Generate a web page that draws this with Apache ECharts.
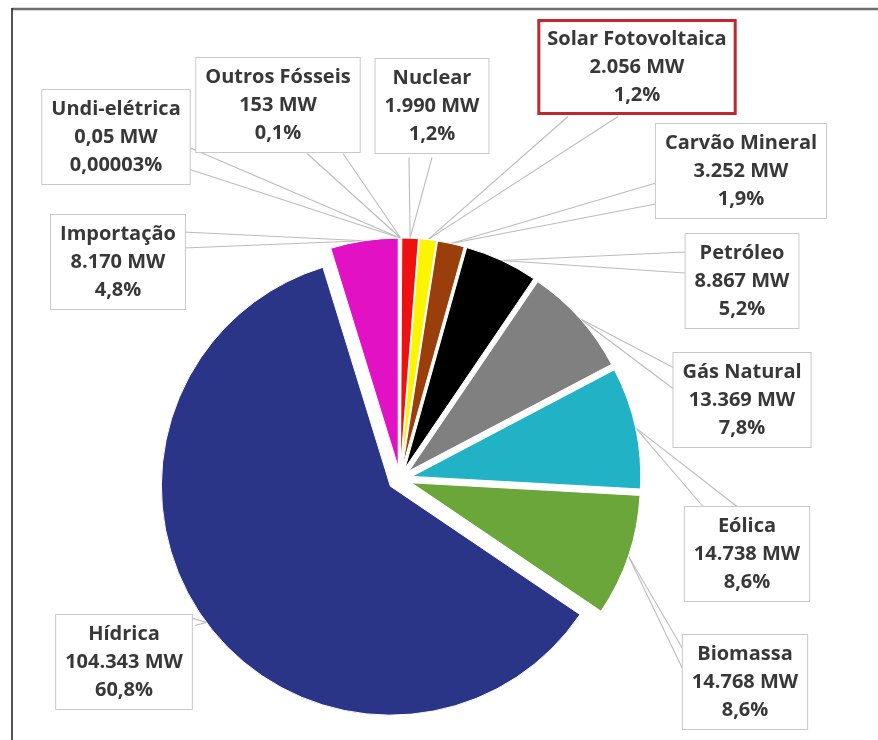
<!DOCTYPE html>
<html>
<head>
<meta charset="utf-8">
<script src="https://cdn.jsdelivr.net/npm/echarts@6/dist/echarts.min.js"></script>
<style>
  html, body { margin: 0; padding: 0; background: #fff; }
  #chart { width: 878px; height: 740px; }
</style>
</head>
<body>
<div id="chart"></div>
<script>
// Capacidade instalada por fonte (MW), na ordem horária a partir do topo
const sources = ['Outros Fósseis', 'Nuclear', 'Solar Fotovoltaica', 'Carvão Mineral', 'Petróleo',
                 'Gás Natural', 'Eólica', 'Biomassa', 'Hídrica', 'Importação', 'Undi-elétrica'];
const capacityMW = [153, 1990, 2056, 3252, 8867, 13369, 14738, 14768, 104343, 8170, 0.05];
const sliceColors = ['#7a7a7a', '#ef1111', '#fdf500', '#9a3e0b', '#000000',
                     '#808080', '#22b2c6', '#6aa63a', '#2a3587', '#e211c4', '#cfcfcf'];

// Centro de cada caixa de rótulo (px)
const labelCenters = [
  [278, 105], [432, 106], [637, 67], [741, 171], [742, 281],
  [742, 400], [747, 554], [745, 682], [124, 662], [118, 262], [116, 137]
];
// Pontos de saída das duas linhas de cada chamada (borda da caixa)
const calloutA = [
  [307, 153], [409, 157], [568, 116], [661, 181], [685, 252],
  [677, 370], [703, 507], [682, 648], [183, 615], [183, 232], [187, 146]
];
const calloutB = [
  [343, 153], [432, 157], [618, 116], [661, 203], [685, 273],
  [677, 392], [737, 507], [682, 668], [195, 626], [183, 248], [187, 168]
];

const total = capacityMW.reduce((a, b) => a + b, 0);

function formatMW(v) {
  if (Number.isInteger(v)) {
    return String(v).replace(/\B(?=(\d{3})+(?!\d))/g, '.');
  }
  return String(v).replace('.', ',');
}
function formatPct(v) {
  const p = v / total * 100;
  const s = p >= 0.05 ? p.toFixed(1) : p.toPrecision(1);
  return s.replace('.', ',') + '%';
}

const CENTER = [400, 479];
const RADIUS = 229;
const EXPLODE = 12;

const chart = echarts.init(document.getElementById('chart'), null, { renderer: 'canvas' });

// Fatias destacadas (todas afastadas do centro)
const sliceData = sources.map((name, i) => ({
  name: name,
  value: capacityMW[i],
  selected: true,
  itemStyle: { color: sliceColors[i] }
}));

// Dados para as séries transparentes de rótulos / linhas
const plainData = sources.map((name, i) => ({ name: name, value: capacityMW[i] }));
const labelData = sources.map((name, i) => {
  const item = { name: name, value: capacityMW[i] };
  if (name === 'Solar Fotovoltaica') {
    item.label = { borderColor: '#c1272d', borderWidth: 3, padding: [3, 7, 3, 7] };
  }
  return item;
});

const ghostBase = {
  type: 'pie',
  center: CENTER,
  radius: RADIUS + EXPLODE,
  startAngle: 90,
  clockwise: true,
  silent: true,
  avoidLabelOverlap: false,
  minShowLabelAngle: 0,
  itemStyle: { color: 'rgba(0,0,0,0)', borderWidth: 0 },
  emphasis: { disabled: true }
};

// Uma série por perna da chamada: rótulo vazio no ponto de saída, linha até a fatia
function calloutLegSeries(points) {
  return Object.assign({}, ghostBase, {
    z: 1,
    data: plainData,
    label: {
      show: true,
      position: 'outside',
      formatter: () => ' ',
      fontSize: 1,
      lineHeight: 1,
      padding: 0,
      color: 'rgba(0,0,0,0)'
    },
    labelLine: {
      show: true,
      length: 5,
      length2: 0,
      smooth: false,
      lineStyle: { color: '#bcbcbc', width: 1.1 }
    },
    labelLayout: function (params) {
      const p = points[params.dataIndex];
      return { x: p[0], y: p[1], align: 'center', verticalAlign: 'middle' };
    }
  });
}

chart.setOption({
  animation: false,
  backgroundColor: '#ffffff',
  graphic: [
    { type: 'line', shape: { x1: 12, y1: 9, x2: 878, y2: 9 }, style: { stroke: '#6e6e6e', lineWidth: 2.5 } },
    { type: 'line', shape: { x1: 12, y1: 8, x2: 12, y2: 740 }, style: { stroke: '#1a1a1a', lineWidth: 1.5 } }
  ],
  series: [
    calloutLegSeries(calloutA),
    calloutLegSeries(calloutB),
    {
      type: 'pie',
      z: 2,
      center: CENTER,
      radius: RADIUS,
      startAngle: 90,
      clockwise: true,
      selectedMode: 'multiple',
      selectedOffset: EXPLODE,
      silent: true,
      itemStyle: { borderColor: '#ffffff', borderWidth: 1 },
      emphasis: { disabled: true },
      label: { show: false },
      labelLine: { show: false },
      data: sliceData
    },
    Object.assign({}, ghostBase, {
      z: 3,
      data: labelData,
      label: {
        show: true,
        position: 'outside',
        formatter: p => p.name + '\n' + formatMW(p.value) + ' MW\n' + formatPct(p.value),
        fontFamily: '"Open Sans", "Liberation Sans", sans-serif',
        fontWeight: 'bold',
        fontSize: 20,
        lineHeight: 28,
        color: '#383838',
        align: 'center',
        backgroundColor: '#ffffff',
        borderColor: '#c9c9c9',
        borderWidth: 1,
        padding: [5, 9, 5, 9]
      },
      labelLine: { show: false },
      labelLayout: function (params) {
        const c = labelCenters[params.dataIndex];
        return { x: c[0], y: c[1], align: 'center', verticalAlign: 'middle' };
      }
    })
  ]
});
</script>
</body>
</html>
